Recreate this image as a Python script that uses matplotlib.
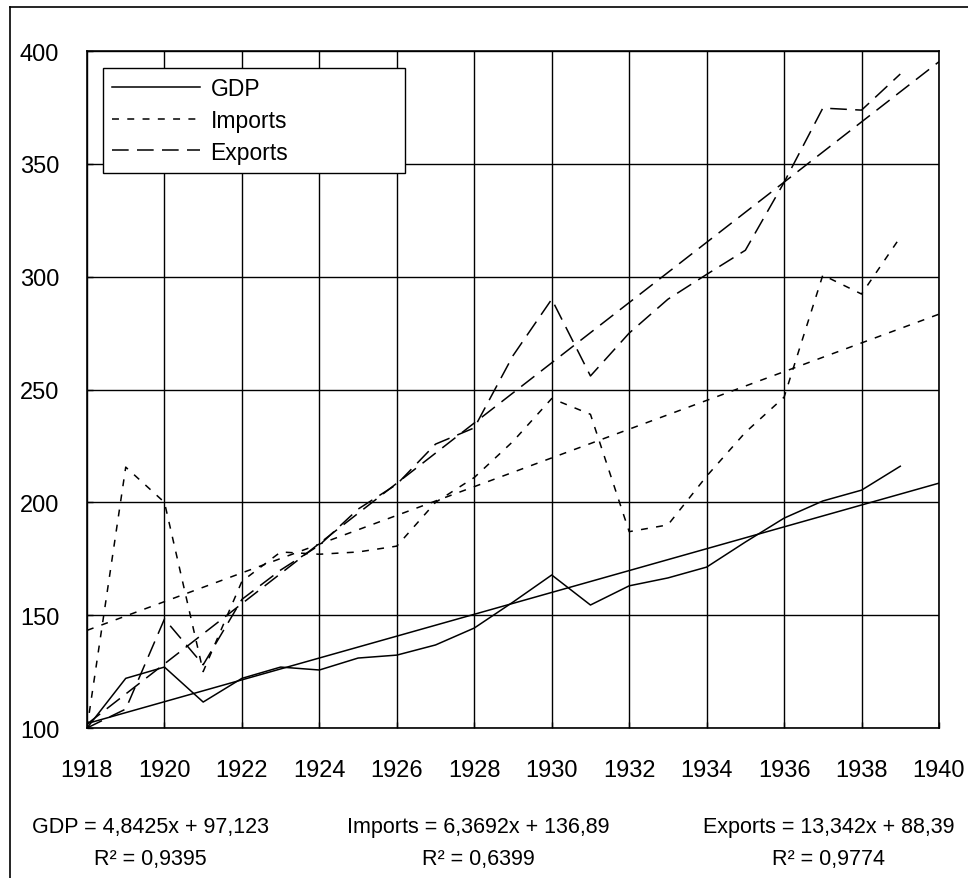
import numpy as np
import matplotlib
matplotlib.use('Agg')
import matplotlib.pyplot as plt
from matplotlib.lines import Line2D

plt.rcParams['font.family'] = ['Liberation Sans', 'DejaVu Sans']
plt.rcParams['lines.scale_dashes'] = False

years = list(range(1918, 1940))
gdp = [100, 122, 127, 111.5, 122, 127, 125.7, 131, 132.3, 136.8, 144.3,
       155.8, 167.8, 154.5, 163, 166.5, 171.3, 182.4, 193, 200.6, 205.4, 216]
imports = [100, 215.6, 200, 125, 165, 178, 177, 178, 180.6, 200, 211,
           227, 246, 239, 187, 190, 211.6, 231, 246.6, 300.7, 292.3, 317.5]
exports = [100, 108.4, 148.3, 128, 157, 170, 181, 197, 208, 225.8, 233,
           265, 290, 256, 275, 290, 301, 311.7, 341.8, 374.7, 373.8, 389.8]

names = ['GDP', 'Imports', 'Exports']
# linear trendlines as printed under the chart (x = 1 for 1918)
trend_slopes = [4.8425, 6.3692, 13.342]
trend_intercepts = [97.123, 136.89, 88.39]
slope_txt = ['4,8425', '6,3692', '13,342']
intercept_txt = ['97,123', '136,89', '88,39']
r2_txt = ['0,9395', '0,6399', '0,9774']
trend_years = [1918, 1940]

styles = ['-', (0, (5, 6)), (0, (12, 6))]

W, H = 968, 879
fig = plt.figure(figsize=(W / 100, H / 100), dpi=100)
ax = fig.add_axes([87 / W, 1 - 729 / H, 852 / W, 677 / H])

for name, vals, ls, k, b in zip(names, [gdp, imports, exports], styles,
                                 trend_slopes, trend_intercepts):
    ax.plot(years, vals, color='black', lw=1.1, ls=ls, label=name)
    tx = np.array(trend_years)
    ax.plot(tx, k * (tx - 1917) + b, color='black', lw=1.1, ls=ls)

ax.set_xlim(1918, 1940)
ax.set_ylim(100, 400)
ax.set_xticks(range(1918, 1941, 2))
ax.set_yticks(range(100, 401, 50))
ax.grid(True, color='black', lw=1.0)
ax.set_axisbelow(True)
for s in ax.spines.values():
    s.set_linewidth(1.2)
ax.tick_params(axis='both', direction='in', length=4, width=1, labelsize=17)
ax.tick_params(axis='y', pad=20)
ax.tick_params(axis='x', pad=22)

leg = ax.legend(loc='upper left', bbox_to_anchor=(0.0188, 0.827, 0.354, 0.148),
                mode='expand', borderaxespad=0, fontsize=16.5, handlelength=3.84,
                handletextpad=0.45, borderpad=0.4, labelspacing=0.38,
                fancybox=False, framealpha=1, edgecolor='black')
leg.get_frame().set_linewidth(1.0)

# outer chart border (runs off the right and bottom edges)
fig.add_artist(Line2D([10 / W, 10 / W], [1 - 8 / H, -0.1], color='black', lw=1.2))
fig.add_artist(Line2D([10 / W, 1.1], [1 - 8 / H, 1 - 8 / H], color='black', lw=1.2))

eq_x = [150, 478, 829]
for x, n, st, it, r2 in zip(eq_x, names, slope_txt, intercept_txt, r2_txt):
    fig.text(x / W, 1 - 828 / H, f'{n} = {st}x + {it}', ha='center', va='center',
             fontsize=15.5)
    fig.text(x / W, 1 - 860 / H, f'R² = {r2}', ha='center', va='center',
             fontsize=15.5)

fig.savefig('out.png', dpi=100)
